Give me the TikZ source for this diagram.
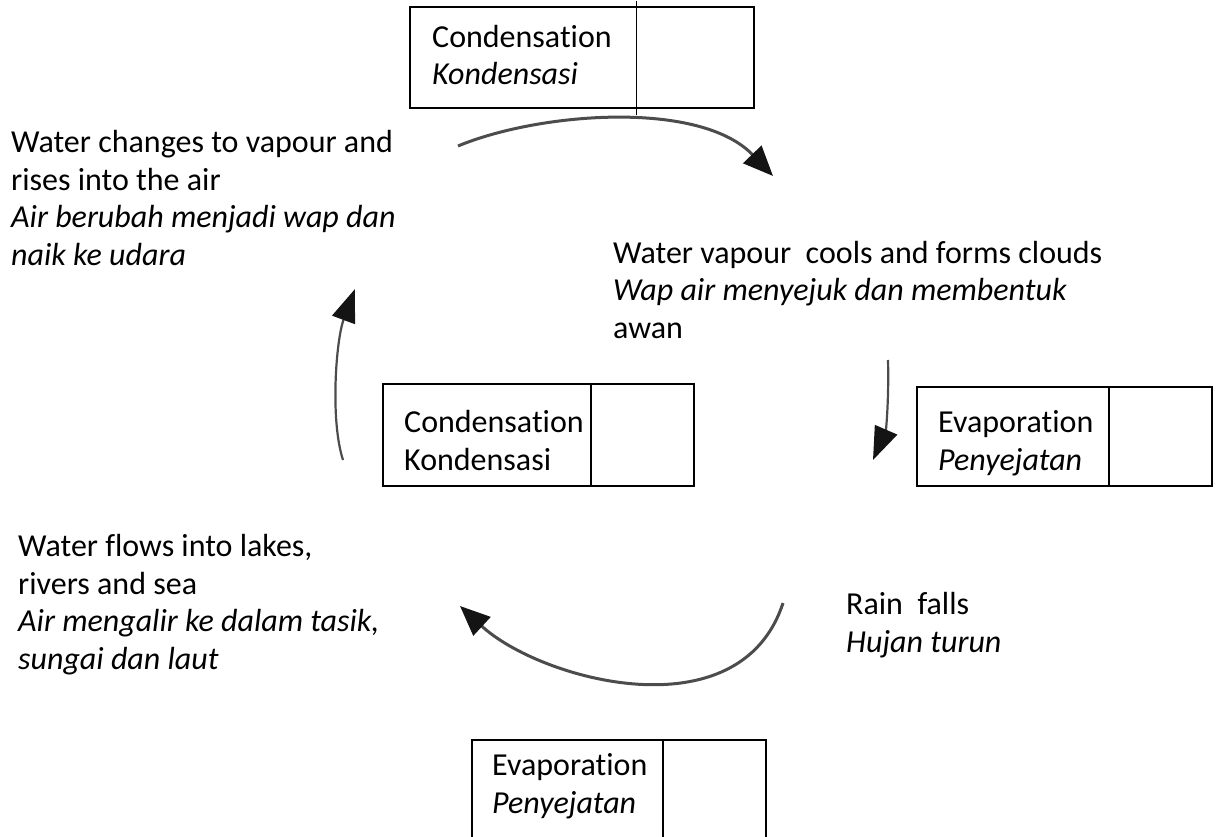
\documentclass[tikz,border=0pt]{standalone}
\usepackage{fontspec}
\setmainfont{Carlito}[Ligatures=NoCommon]
\usetikzlibrary{arrows.meta}
\tikzset{
  txt/.style={anchor=base west, inner sep=0pt, align=left, font=\fontsize{32}{37.5}\selectfont},
  boxline/.style={line width=1.4pt, black},
  cyc/.style={line width=3pt, black!70, -{Triangle[length=30pt,width=25pt,color=black!92]}},
  cycthin/.style={line width=2.2pt, black!70, -{Triangle[length=33pt,width=24pt,color=black!92]}},
}
\begin{document}
\begin{tikzpicture}[x=1pt,y=-1pt]
\useasboundingbox (0,0) rectangle (1220,837);
% top box
\draw[boxline] (410,7) rectangle (754,108);
\draw[boxline] (636.5,1) -- (636.5,115);
\node[txt] (t1) at (432,85) {Condensation\\\textit{Kondensasi}};
% middle box
\draw[boxline] (383,384) rectangle (694,486);
\draw[boxline] (591,384) -- (591,486);
\node[txt] (t2) at (404,470) {Condensation\\Kondensasi};
% right box
\draw[boxline] (917,387) rectangle (1212,486);
\draw[boxline] (1109,387) -- (1109,486);
\node[txt] (t3) at (938,470) {Evaporation\\\textit{Penyejatan}};
% bottom box (open at the bottom)
\draw[boxline] (472,840) -- (472,740) -- (766,740) -- (766,840);
\draw[boxline] (663,740) -- (663,840);
\node[txt] (t4) at (492,813) {Evaporation\\\textit{Penyejatan}};
% texts
\node[txt] (wc) at (11,265) {Water changes to vapour and\\rises into the air\\\textit{Air berubah menjadi wap dan}\\\textit{naik ke udara}};
\node[txt] (wv) at (613,338) {Water vapour\ \ cools and forms clouds\\\textit{Wap air menyejuk dan membentuk}\\awan};
\node[txt] (wf) at (18,669) {Water flows into lakes,\\rivers and sea\\\textit{Air mengalir ke dalam tasik,}\\\textit{sungai dan laut}};
\node[txt] (rf) at (846,652) {Rain\ \ falls\\\textit{Hujan turun}};
% arrows
\coordinate (a1s) at (458,146);
\coordinate (a1e) at (773,176);
\draw[cyc] (a1s) .. controls (540,112) and (700,100) .. (a1e);
\coordinate (a2s) at (888,360);
\coordinate (a2e) at (873,460);
\draw[cycthin] (a2s) .. controls (889,400) and (886,430) .. (a2e);
\coordinate (a3s) at (783,603);
\coordinate (a3e) at (460,606);
\draw[cyc] (a3s) .. controls (740,735) and (540,680) .. (a3e);
\coordinate (a4s) at (343,460);
\coordinate (a4e) at (355,289);
\draw[cycthin] (a4s) .. controls (330,420) and (336,340) .. (a4e);
\end{tikzpicture}
\end{document}
